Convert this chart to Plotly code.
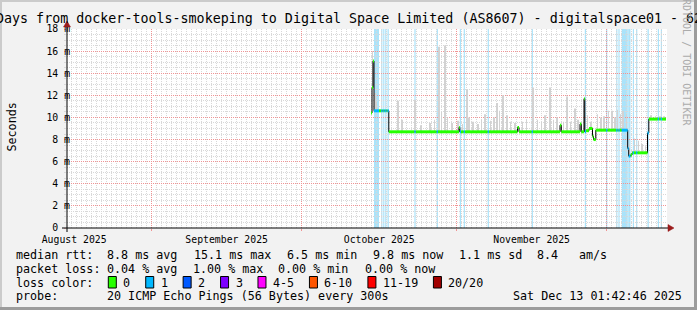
import numpy as np
import pandas as pd
import plotly.graph_objects as go

FONT = "DejaVu Sans Mono"

# ---------------- data ----------------
X_START = "2025-08-15 01:42:46"
X_END = "2025-12-13 01:42:46"
Y_MAX = 18

# median rtt (ms) as step segments: start time, value, lost pings (of 20)
med_time = [
    "2025-10-14 20:56", "2025-10-15 01:44", "2025-10-15 06:32", "2025-10-15 11:20",
    "2025-10-16 11:20", "2025-10-16 21:53", "2025-10-17 03:39", "2025-10-17 07:29",
    "2025-10-17 13:15", "2025-10-17 17:05", "2025-10-17 22:51", "2025-10-18 04:08",
    "2025-10-18 10:22", "2025-10-23 13:15", "2025-10-23 19:00", "2025-10-28 00:17",
    "2025-10-28 06:03", "2025-11-01 11:20", "2025-11-01 15:10", "2025-11-01 20:56",
    "2025-11-02 09:53", "2025-11-02 15:39", "2025-11-07 05:05", "2025-11-07 10:51",
    "2025-11-13 04:08", "2025-11-13 11:20", "2025-11-16 00:17", "2025-11-16 06:03",
    "2025-11-21 16:08", "2025-11-21 22:22", "2025-11-25 16:08", "2025-11-25 22:22",
    "2025-11-26 11:20", "2025-11-26 15:10", "2025-11-26 20:56", "2025-11-27 11:20",
    "2025-11-28 04:08", "2025-11-28 08:56", "2025-11-28 19:58", "2025-11-30 21:24",
    "2025-12-01 03:10", "2025-12-02 21:53", "2025-12-03 03:39", "2025-12-03 08:27",
    "2025-12-03 14:13", "2025-12-04 00:17", "2025-12-05 05:05", "2025-12-05 09:53",
    "2025-12-05 18:32", "2025-12-06 01:44", "2025-12-06 05:34", "2025-12-06 11:20",
    "2025-12-06 21:24", "2025-12-07 03:10", "2025-12-09 04:08", "2025-12-09 10:22",
    "2025-12-11 05:34", "2025-12-11 11:20", "2025-12-11 19:58", "2025-12-12 01:44",
]
med_value = [
    10.4, 12.7, 15.1, 10.6,
    10.6, 10.6, 10.6, 10.6,
    10.6, 10.6, 10.6, 10.6,
    8.7, 8.7, 8.7, 8.7,
    8.7, 9.1, 8.7, 8.7,
    8.7, 8.7, 8.7, 8.7,
    9.1, 8.7, 8.7, 8.7,
    9.3, 8.7, 9.4, 8.7,
    11.7, 8.7, 8.8, 9.0,
    8.3, 8.0, 8.85, 8.85,
    8.85, 8.85, 8.85, 8.85,
    8.85, 8.85, 7.2, 6.5,
    6.6, 6.8, 6.8, 6.8,
    6.8, 6.8, 8.6, 9.85,
    9.85, 9.85, 9.85, 9.85,
]
med_loss = [
    0, 0, 0, 1,
    0, 1, 0, 1,
    0, 1, 0, 1,
    0, 1, 0, 1,
    0, 0, 1, 0,
    1, 0, 1, 0,
    0, 0, 1, 0,
    0, 0, 0, 0,
    0, 1, 0, 0,
    0, 0, 0, 1,
    0, 1, 0, 1,
    0, 1, 1, 1,
    0, 0, 1, 0,
    1, 0, 1, 0,
    1, 0, 1, 0,
]
med_end = "2025-12-12 20:56"

# smoke: highest ping of individual intervals (ms)
smoke_time = [
    "2025-10-15 04:08", "2025-10-15 14:13", "2025-10-15 23:20", "2025-10-20 07:58",
    "2025-10-21 01:44", "2025-10-23 16:08", "2025-10-24 20:56", "2025-10-26 16:08",
    "2025-10-27 13:44", "2025-10-28 12:46", "2025-10-28 23:20", "2025-10-29 16:08",
    "2025-10-30 04:08", "2025-10-31 01:44", "2025-11-01 07:58", "2025-11-02 04:08",
    "2025-11-03 00:17", "2025-11-03 11:20", "2025-11-04 06:32", "2025-11-05 06:32",
    "2025-11-05 23:20", "2025-11-06 16:08", "2025-11-07 18:32", "2025-11-08 11:20",
    "2025-11-09 01:44", "2025-11-09 13:44", "2025-11-10 06:32", "2025-11-11 00:17",
    "2025-11-11 18:32", "2025-11-12 16:08", "2025-11-14 04:08", "2025-11-14 23:20",
    "2025-11-16 07:29", "2025-11-17 04:08", "2025-11-17 23:20", "2025-11-18 16:08",
    "2025-11-19 16:08", "2025-11-20 08:56", "2025-11-21 01:44", "2025-11-22 08:56",
    "2025-11-23 00:17", "2025-11-23 18:32", "2025-11-24 16:08", "2025-11-25 06:32",
    "2025-11-27 04:08", "2025-11-27 20:56", "2025-11-29 04:08", "2025-11-29 20:56",
    "2025-11-30 11:20", "2025-12-01 08:56", "2025-12-02 01:44", "2025-12-02 16:08",
    "2025-12-03 04:08", "2025-12-03 18:32", "2025-12-04 06:32", "2025-12-04 23:20",
    "2025-12-05 13:44", "2025-12-06 13:44", "2025-12-07 08:56", "2025-12-08 01:44",
    "2025-12-08 18:32", "2025-12-09 20:56", "2025-12-10 18:32", "2025-12-11 16:08",
    "2025-12-12 11:20",
]
smoke_top = [
    16.0, 12.2, 11.4, 11.5,
    9.8, 11.6, 9.3, 9.5,
    9.8, 16.4, 10.5, 16.5,
    10.0, 9.5, 9.7, 9.4,
    12.5, 10.0, 9.6, 9.4,
    9.8, 10.3, 9.7, 10.0,
    11.3, 10.6, 12.0, 10.2,
    9.6, 9.5, 9.6, 9.8,
    12.7, 9.8, 9.6, 10.2,
    12.7, 9.8, 10.0, 9.6,
    11.9, 9.6, 10.8, 9.8,
    10.2, 9.6, 10.3, 10.0,
    10.1, 10.6, 10.6, 10.0,
    10.7, 10.3, 10.6, 10.3,
    7.6, 8.1, 7.9, 7.6,
    7.4, 10.2, 10.1, 10.1,
    10.1,
]

y_tick_vals = [0, 2, 4, 6, 8, 10, 12, 14, 16, 18]
y_tick_text = ["0<span style='color:#f2f2f2'> m</span>", "2 m", "4 m", "6 m", "8 m",
               "10 m", "12 m", "14 m", "16 m", "18 m"]

loss_labels = ["0", "1", "2", "3", "4-5", "6-10", "11-19", "20/20"]
loss_upper = [0, 1, 2, 3, 5, 10, 19, 20]
loss_colors = ["#26ff00", "#00b8ff", "#0059ff", "#7e00ff", "#ff00ff", "#ff5500", "#ff0000", "#a10000"]
loss_bg_colors = ["#ffffff", "#aae3fa", "#aac4ff", "#cfaaff", "#ffaaff", "#ffc4aa", "#ffaaaa", "#e0aaaa"]

stat_rtt_label = "median rtt:"
stat_rtt = ["8.8 ms avg", "15.1 ms max", "6.5 ms min", "9.8 ms now", "1.1 ms sd", "8.4", "am/s"]
stat_loss_label = "packet loss:"
stat_loss = ["0.04 % avg", "1.00 % max", "0.00 % min", "0.00 % now"]
probe_label = "probe:"
probe_text = "20 ICMP Echo Pings (56 Bytes) every 300s"
stamp_text = "Sat Dec 13 01:42:46 2025"
title_text = "Days from docker-tools-smokeping to Digital Space Limited (AS8607) - digitalspace01 - 62"
y_title = "Seconds"
watermark = "RRDTOOL / TOBI OETIKER"

# ---------------- layout helpers (pixels -> paper) ----------------
FIG_W, FIG_H = 697, 310
L, T, PW, PH = 67, 29, 600, 199


def fx(x):
    return (x - L) / PW


def fy(y):
    return (T + PH - y) / PH


def loss_index(n):
    for i, up in enumerate(loss_upper):
        if n <= up:
            return i
    return len(loss_upper) - 1


MGRID = "#f09494"
GRID = "#d8d8d8"

tm = pd.to_datetime(med_time)
tend = pd.to_datetime(med_end)
seg_end = list(tm[1:]) + [tend]

fig = go.Figure()

# smoke spikes
st = pd.to_datetime(smoke_time)
idx = np.searchsorted(tm.values, st.values, side="right") - 1
base = np.array(med_value)[idx]
height = np.array(smoke_top) - base
px_ms = (pd.Timestamp(X_END) - pd.Timestamp(X_START)).total_seconds() * 1000 / PW
fig.add_trace(go.Bar(x=st, y=height, base=base, width=1.0 * px_ms,
                     marker=dict(color="#d2d2d2", line=dict(width=0)),
                     hoverinfo="skip", showlegend=False))

# black median step line
fig.add_trace(go.Scatter(x=list(tm) + [tend], y=med_value + [med_value[-1]], mode="lines",
                         line=dict(color="#000000", width=1, shape="hv"),
                         hoverinfo="skip", showlegend=False))

# coloured median segments by loss
for ci, col in enumerate(loss_colors):
    xs, ys = [], []
    for i in range(len(tm)):
        if loss_index(med_loss[i]) == ci:
            xs += [tm[i], seg_end[i], None]
            ys += [med_value[i], med_value[i], None]
    if xs:
        fig.add_trace(go.Scatter(x=xs, y=ys, mode="lines",
                                 line=dict(color=col, width=3),
                                 hoverinfo="skip", showlegend=False))

shapes = []
# loss background bars
for i in range(len(tm)):
    if med_loss[i] > 0:
        shapes.append(dict(type="rect", xref="x", yref="paper", x0=tm[i], x1=seg_end[i],
                           y0=0, y1=1, fillcolor=loss_bg_colors[loss_index(med_loss[i])],
                           line=dict(width=0), layer="below"))

# borders of the image
shapes += [
    dict(type="rect", xref="paper", yref="paper", x0=fx(0), x1=fx(FIG_W), y0=fy(0), y1=fy(2),
         fillcolor="#cbcbcb", line=dict(width=0), layer="below"),
    dict(type="rect", xref="paper", yref="paper", x0=fx(0), x1=fx(2), y0=fy(0), y1=fy(FIG_H),
         fillcolor="#cbcbcb", line=dict(width=0), layer="below"),
    dict(type="rect", xref="paper", yref="paper", x0=fx(0), x1=fx(FIG_W), y0=fy(FIG_H - 3), y1=fy(FIG_H),
         fillcolor="#9c9c9c", line=dict(width=0), layer="above"),
    dict(type="rect", xref="paper", yref="paper", x0=fx(FIG_W - 3), x1=fx(FIG_W), y0=fy(0), y1=fy(FIG_H),
         fillcolor="#9c9c9c", line=dict(width=0), layer="above"),
]
# axis lines and arrows
shapes += [
    dict(type="line", xref="paper", yref="paper", x0=fx(62), x1=fx(669), y0=0, y1=0,
         line=dict(color="#000000", width=1), layer="above"),
    dict(type="line", xref="paper", yref="paper", x0=0, x1=0, y0=fy(232), y1=fy(23),
         line=dict(color="#000000", width=1), layer="above"),
    dict(type="path", xref="paper", yref="paper",
         path=f"M {fx(668)} {fy(224.5)} L {fx(674)} {fy(228)} L {fx(668)} {fy(231.5)} Z",
         fillcolor="#9b1b1b", line=dict(color="#9b1b1b", width=0.5), layer="above"),
    dict(type="path", xref="paper", yref="paper",
         path=f"M {fx(63.5)} {fy(27)} L {fx(67)} {fy(21)} L {fx(70.5)} {fy(27)} Z",
         fillcolor="#9b1b1b", line=dict(color="#9b1b1b", width=0.5), layer="above"),
]

ann = []


def text(x, y, s, size=11.7, anchor="left", color="#000000", angle=0):
    ann.append(dict(x=fx(x), y=fy(y), xref="paper", yref="paper", text=s, showarrow=False,
                    xanchor=anchor, yanchor="middle", textangle=angle,
                    borderpad=0, borderwidth=0,
                    font=dict(family=FONT, size=size, color=color)))


text(-4, 18, title_text, size=13.33)
text(11, 127.5, y_title, size=11.7, anchor="center", angle=-90)
text(687, 59, watermark, size=10, anchor="center", color="#ababab", angle=90)

row_y = [254.6, 268.6, 282.6, 296.4]
text(16, row_y[0], stat_rtt_label)
for s, x in zip(stat_rtt, [107.3, 194, 286.7, 373, 458.7, 537, 579.3]):
    text(x, row_y[0], s)
text(16, row_y[1], stat_loss_label)
for s, x in zip(stat_loss, [107.3, 193.3, 278, 365.3]):
    text(x, row_y[1], s)
text(16, row_y[2], "loss color:")
CW = 7.02
bx = 108.3
for lab, col in zip(loss_labels, loss_colors):
    shapes.append(dict(type="rect", xref="paper", yref="paper", x0=fx(bx), x1=fx(bx + 8),
                       y0=fy(288), y1=fy(276.5), fillcolor=col,
                       line=dict(color="#000000", width=1), layer="above"))
    text(bx + 15, row_y[2], lab)
    bx = bx + 15 + len(lab) * CW + 15.4
text(16, row_y[3], probe_label)
text(107.3, row_y[3], probe_text)
text(682, row_y[3], stamp_text, anchor="right")

fig.update_layout(
    width=FIG_W, height=FIG_H, autosize=False,
    margin=dict(l=L, r=FIG_W - L - PW, t=T, b=FIG_H - T - PH, pad=0),
    paper_bgcolor="#f2f2f2", plot_bgcolor="#ffffff",
    barmode="overlay", showlegend=False,
    shapes=shapes, annotations=ann,
    font=dict(family=FONT, color="#000000"),
    xaxis=dict(type="date", range=[X_START, X_END], automargin=False,
               showgrid=True, gridcolor=MGRID, griddash="1px,1px", gridwidth=1,
               tick0="2025-08-01", dtick="M1", ticklabelmode="period", tickformat="%B %Y",
               ticks="outside", ticklen=2, tickcolor=MGRID,
               tickfont=dict(family=FONT, size=9.8, color="#000000"),
               minor=dict(tick0="2025-08-01", dtick=86400000, showgrid=True, gridcolor=GRID,
                          griddash="1px,1px", gridwidth=1),
               showline=False, zeroline=False, fixedrange=True),
    yaxis=dict(range=[0, Y_MAX], automargin=False,
               tickvals=y_tick_vals, ticktext=y_tick_text,
               showgrid=True, gridcolor=MGRID, griddash="1px,1px", gridwidth=1,
               ticks="outside", ticklen=2, tickcolor=MGRID, ticklabelstandoff=-8,
               tickfont=dict(family=FONT, size=9.8, color="#000000"),
               minor=dict(dtick=0.5, showgrid=True, gridcolor=GRID, griddash="1px,1px",
                          gridwidth=1, ticks="outside", ticklen=2, tickcolor=GRID),
               showline=False, zeroline=False, fixedrange=True),
)

fig.write_html("out.html", config={"displayModeBar": False})
